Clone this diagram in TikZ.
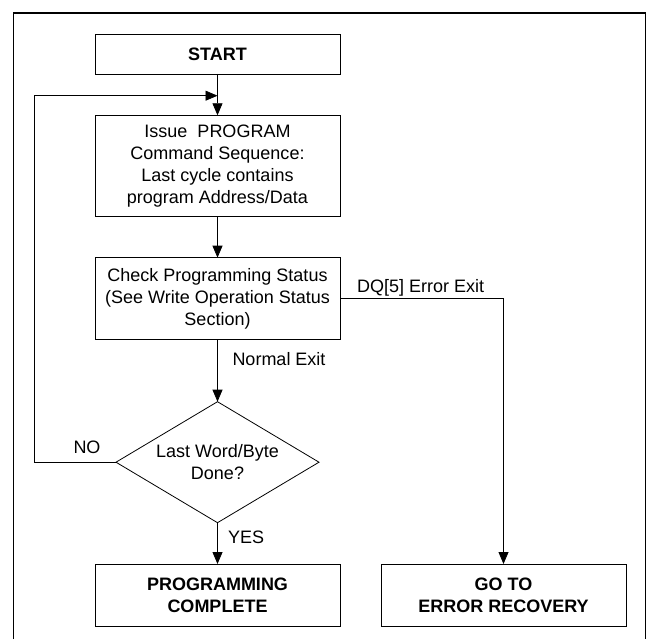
\documentclass[tikz,border=0pt]{standalone}
\usepackage{fontspec}
\setmainfont{Liberation Sans}
\usetikzlibrary{positioning,shapes.geometric,arrows.meta}

\begin{document}
\begin{tikzpicture}[x=1pt, y=1pt, auto,
            font=\fontsize{18}{22}\selectfont,
            arrowstyle/.style={->, line width=0.8pt, >={Triangle[length=12pt, width=10pt]}}]
            % Box, decision and label styles
            \tikzstyle{boxnode} = [draw, line width=0.8pt, rectangle, align=center, minimum width=245pt, inner sep=0pt, outer sep=0pt]
            \tikzstyle{decision} = [draw, line width=0.8pt, diamond, aspect=1.68, align=center, minimum width=203pt, minimum height=121pt, inner sep=0pt, outer sep=0pt]
            \tikzstyle{tag} = [inner sep=0pt, outer sep=0pt]
            \useasboundingbox (0,0) rectangle (647,-639);
            % Outer frame
            \draw [line width=1.2pt] (13.3,-639) |- (645.7,-13) -- (645.7,-639);

            % Define the nodes
            \node (start) [boxnode, minimum height=40pt] at (217.5,-54) {\textbf{START}};
            \node (issue) [boxnode, minimum height=101.4pt, below=41.3pt of start] {Issue~~PROGRAM\\Command Sequence:\\Last cycle contains\\program Address/Data};
            \node (check) [boxnode, minimum height=81.6pt, below=41pt of issue] {Check Programming Status\\(See Write Operation Status\\Section)};
            \node (decide) [decision, below=62.4pt of check] {Last Word/Byte\\Done?};
            \node (done) [boxnode, minimum height=62pt, below=41.3pt of decide] {\textbf{PROGRAMMING}\\\textbf{COMPLETE}};
            \node (err) [boxnode, minimum height=62pt, right=41pt of done] {\textbf{GO TO}\\\textbf{ERROR RECOVERY}};
            \coordinate [below=21.7pt of start] (join);
            \coordinate [left=82pt of decide.west] (noturn);

            % Labels
            \node (dq) [tag, above right=2.2pt and 17pt of check.east] {DQ[5] Error Exit};
            \node (normal) [tag, below right=13.5pt and 15pt of check.south] {Normal Exit};
            \node (no) [tag, above left=8.5pt and 15.5pt of decide.west] {NO};
            \node (yes) [tag, below right=8.5pt and 10.5pt of decide.south] {YES};

            % Draw the arrows
            \draw [arrowstyle] (start) -- (issue);
            \draw [arrowstyle] (issue) -- (check);
            \draw [arrowstyle] (check) -- (decide);
            \draw [arrowstyle] (decide) -- (done);
            \draw [arrowstyle] (check.east) -| (err.north);
            \draw [arrowstyle] (decide.west) -- (noturn) |- (join);
        \end{tikzpicture}
\end{document}
